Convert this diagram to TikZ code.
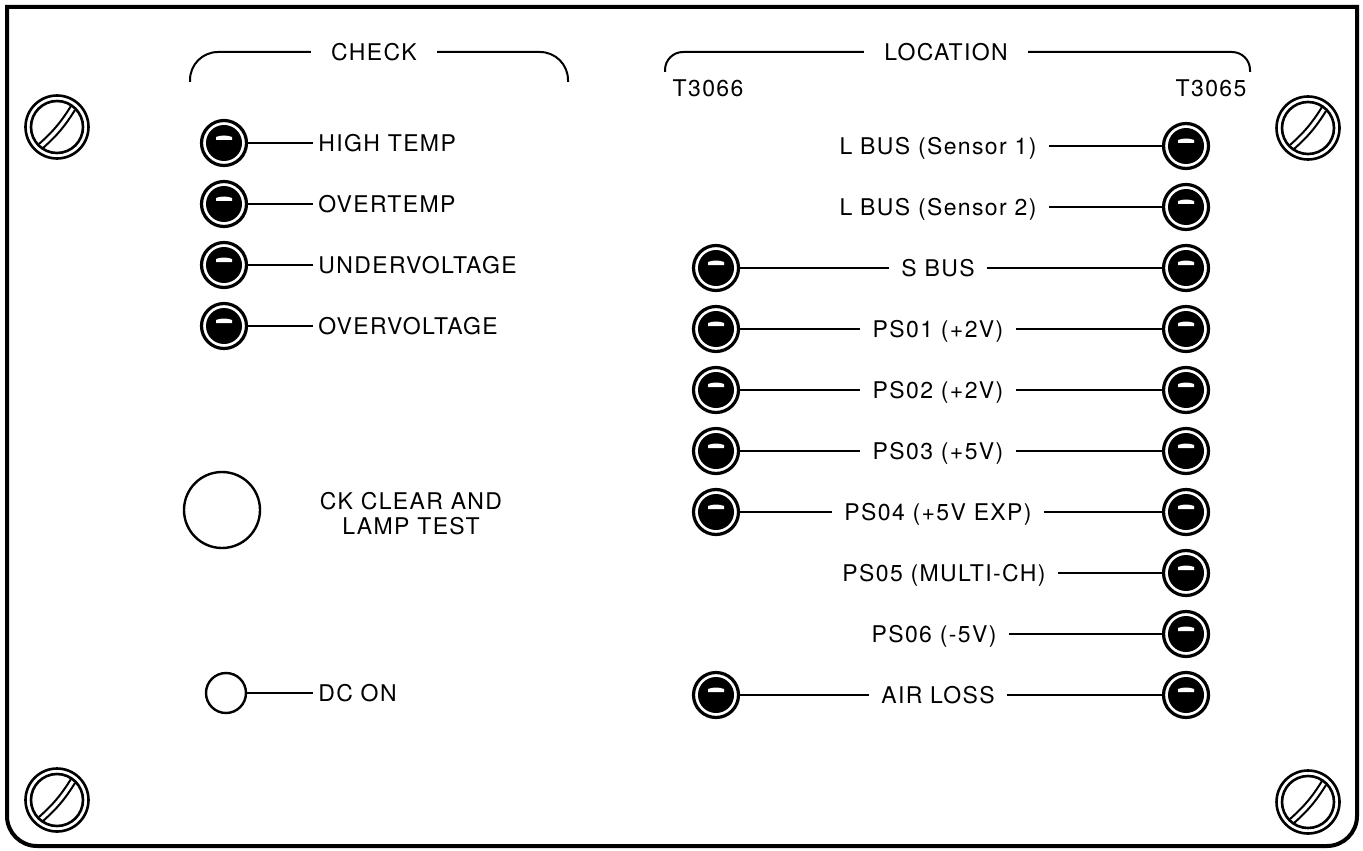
\documentclass[tikz,border=0pt]{standalone}
\usepackage{fontspec}
\setmainfont[LetterSpace=6]{TeX Gyre Heros}
\usetikzlibrary{calc}

\tikzset{
  lamp/.style={circle, draw, line width=1.6pt, fill=white, minimum size=22.5pt, inner sep=0pt, outer sep=0pt},
  button/.style={circle, draw, line width=1.2pt, inner sep=0pt, outer sep=0pt},
  lead/.style={line width=1pt},
  tag/.style={font=\fontsize{11.5}{13}\selectfont, text height=8.3pt, text depth=0pt, inner ysep=0pt, inner xsep=6pt},
  chktag/.style={tag, anchor=west, inner xsep=2.5pt},
  head/.style={tag, inner xsep=10pt},
}

\newcommand{\lamp}[2]{% indicator lamp, node #1 centred at (#2)
  \node[lamp] (#1) at (#2) {};
  \fill (#1.center) circle[radius=18];
  % white glint on the lens
  \fill[white] ($(#1.center)+(-8,-3)$) -- ($(#1.center)+(8,-3)$) -- ($(#1.center)+(8,-6)$)
    .. controls ($(#1.center)+(3,-8)$) and ($(#1.center)+(-3,-8)$) .. ($(#1.center)+(-8,-6)$) -- cycle;
}
\newcommand{\screw}[1]{% slotted panel screw centred at (#1)
  \draw[line width=1.3pt] (#1) circle[radius=31.5];
  \draw[line width=1.3pt] (#1) circle[radius=26];
  \draw[line width=1pt] ($(#1)+(-18,17)$) to[bend right=8] ($(#1)+(14,-21)$);
  \draw[line width=1pt] ($(#1)+(-14,21)$) to[bend right=8] ($(#1)+(18,-17)$);
}

\begin{document}
\begin{tikzpicture}[x=0.5pt,y=-0.5pt]
  \useasboundingbox (0,0) rectangle (1363,850);
  % panel outline: square top corners, rounded bottom corners
  \draw[line width=2pt] (7,7) -- (7,816) arc[start angle=180,end angle=90,radius=30]
    -- (1327,846) arc[start angle=90,end angle=0,radius=30] -- (1357,7) -- cycle;
  \screw{57,127} \screw{1308,128} \screw{57,800} \screw{1308,802}

  % CHECK group
  \node[head] (check) at (374,52) {CHECK};
  \coordinate (chkL) at (190,82);
  \coordinate (chkR) at (568,82);
  \draw[lead] (chkL) -- (190,80) arc[start angle=180,end angle=270,radius=28] -- (check.west);
  \draw[lead] (check.east) -- (540,52) arc[start angle=270,end angle=360,radius=28] -- (chkR);

  \lamp{ht}{224,143} \node[chktag] (htT) at (313,143) {HIGH TEMP};    \draw[lead] (ht) -- (htT);
  \lamp{ot}{224,204} \node[chktag] (otT) at (313,204) {OVERTEMP};     \draw[lead] (ot) -- (otT);
  \lamp{uv}{224,265} \node[chktag] (uvT) at (313,265) {UNDERVOLTAGE}; \draw[lead] (uv) -- (uvT);
  \lamp{ov}{224,326} \node[chktag] (ovT) at (313,326) {OVERVOLTAGE};  \draw[lead] (ov) -- (ovT);

  \node[button, minimum size=38pt] (ck) at (222,510) {};
  \node[font=\fontsize{11.5}{12.5}\selectfont, align=center] (ckT) at (411,514) {CK CLEAR AND\\LAMP TEST};

  \node[button, minimum size=20pt] (dc) at (226,693) {};
  \node[chktag] (dcT) at (313,693) {DC ON}; \draw[lead] (dc) -- (dcT);

  % LOCATION group
  \node[head] (loc) at (946,52) {LOCATION};
  \coordinate (locL) at (665,72);
  \coordinate (locR) at (1250,72);
  \draw[lead] (locL) -- (665,70) arc[start angle=180,end angle=270,radius=18] -- (loc.west);
  \draw[lead] (loc.east) -- (1232,52) arc[start angle=270,end angle=360,radius=18] -- (locR);
  \node[tag] (t66) at (708,88) {T3066};
  \node[tag] (t65) at (1211,88) {T3065};

  \lamp{lb1R}{1186,146} \node[tag] (lb1) at (938,146) {L BUS (Sensor 1)};
  \draw[lead] (lb1) -- (lb1R);
  \lamp{lb2R}{1186,207} \node[tag] (lb2) at (938,207) {L BUS (Sensor 2)};
  \draw[lead] (lb2) -- (lb2R);
  \lamp{sbL}{716,268} \lamp{sbR}{1186,268} \node[tag] (sb) at (938,268) {S BUS};
  \draw[lead] (sbL) -- (sb); \draw[lead] (sb) -- (sbR);
  \lamp{p1L}{716,329} \lamp{p1R}{1186,329} \node[tag] (p1) at (938,329) {PS01 (+2V)};
  \draw[lead] (p1L) -- (p1); \draw[lead] (p1) -- (p1R);
  \lamp{p2L}{716,390} \lamp{p2R}{1186,390} \node[tag] (p2) at (938,390) {PS02 (+2V)};
  \draw[lead] (p2L) -- (p2); \draw[lead] (p2) -- (p2R);
  \lamp{p3L}{716,451} \lamp{p3R}{1186,451} \node[tag] (p3) at (938,451) {PS03 (+5V)};
  \draw[lead] (p3L) -- (p3); \draw[lead] (p3) -- (p3R);
  \lamp{p4L}{716,512} \lamp{p4R}{1186,512} \node[tag] (p4) at (938,512) {PS04 (+5V EXP)};
  \draw[lead] (p4L) -- (p4); \draw[lead] (p4) -- (p4R);
  \lamp{p5R}{1186,573} \node[tag] (p5) at (944,573) {PS05 (MULTI-CH)};
  \draw[lead] (p5) -- (p5R);
  \lamp{p6R}{1186,634} \node[tag] (p6) at (934,634) {PS06 (-5V)};
  \draw[lead] (p6) -- (p6R);
  \lamp{alL}{716,695} \lamp{alR}{1186,695} \node[tag] (al) at (938,695) {AIR LOSS};
  \draw[lead] (alL) -- (al); \draw[lead] (al) -- (alR);
\end{tikzpicture}
\end{document}
